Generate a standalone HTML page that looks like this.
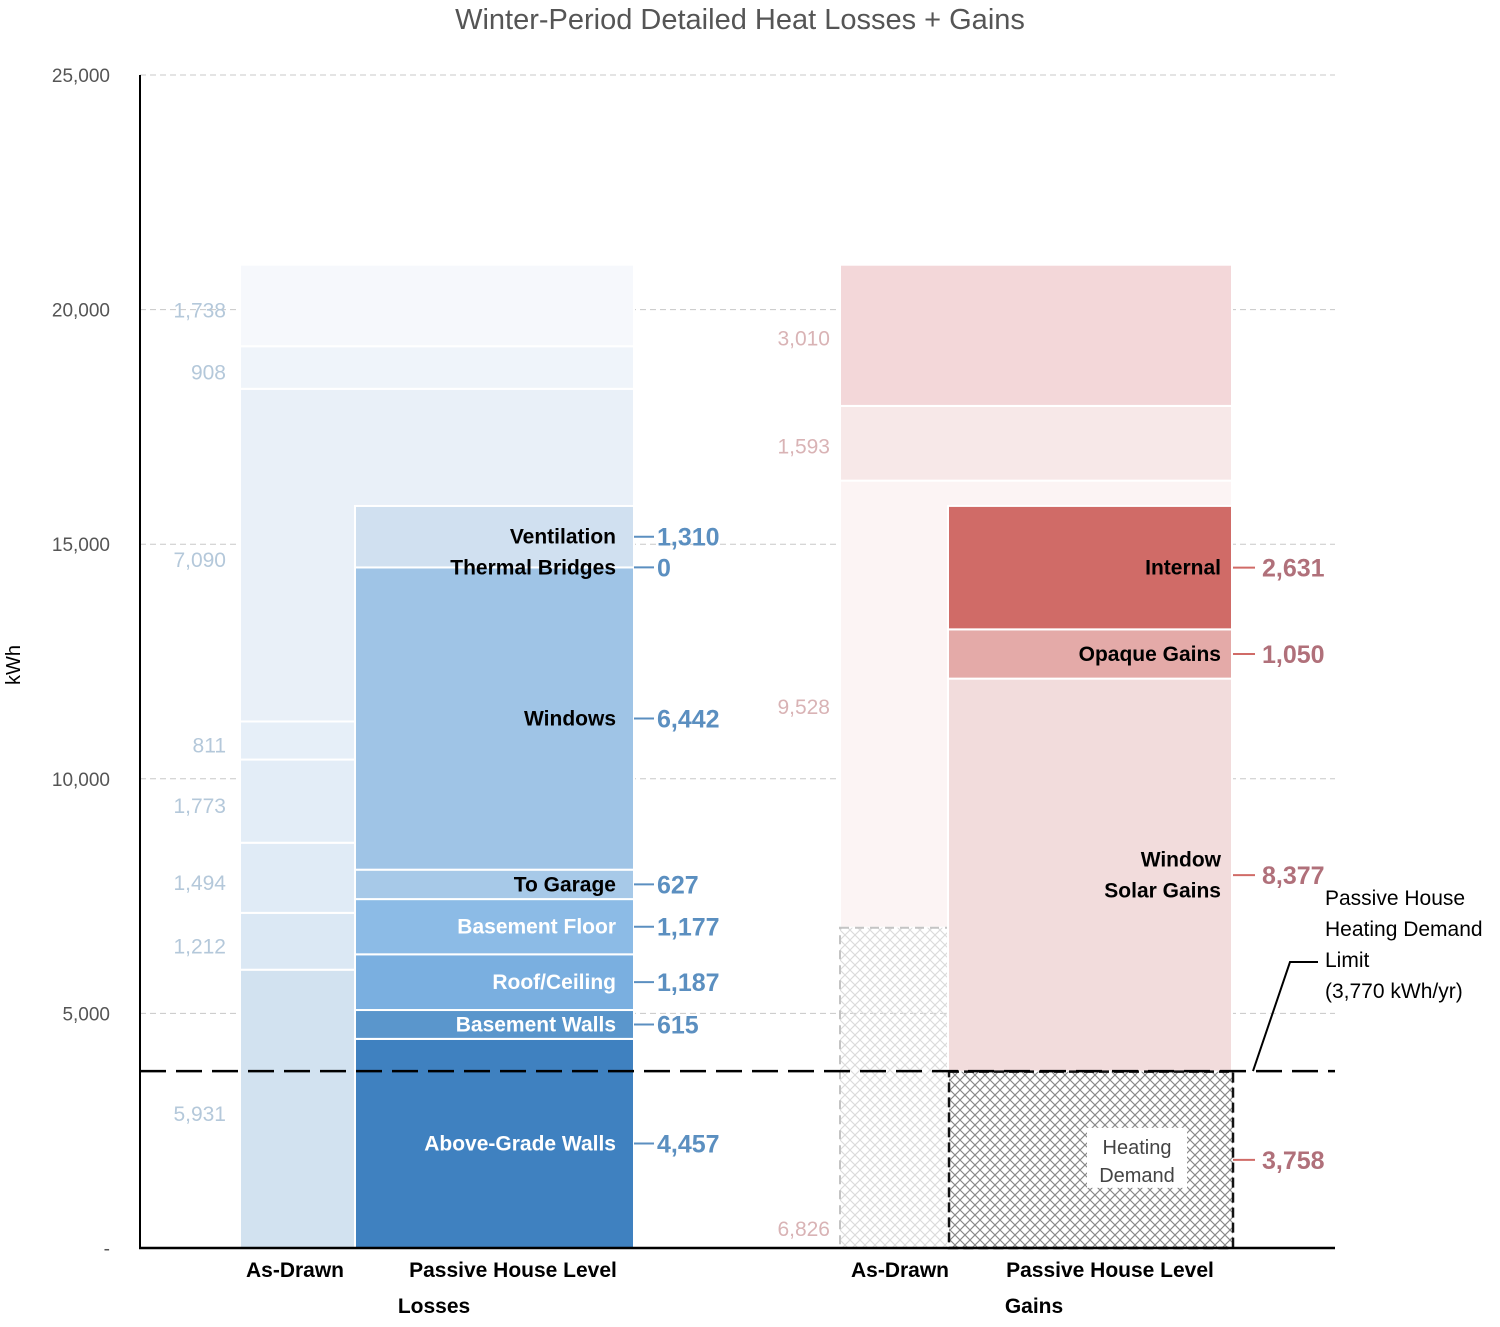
<!DOCTYPE html>
<html><head><meta charset="utf-8"><style>
html,body{margin:0;padding:0;background:#fff;}
svg text{font-family:"Liberation Sans",sans-serif;}
</style></head><body>
<svg id="chart" width="1500" height="1322" viewBox="0 0 1500 1322" xmlns="http://www.w3.org/2000/svg">
<defs>
<pattern id="hatch" width="10" height="10" patternUnits="userSpaceOnUse">
<path d="M0,0 L10,10 M10,0 L0,10" stroke="#8a8a8a" stroke-width="1"/></pattern>
<pattern id="hatchL" width="10" height="10" patternUnits="userSpaceOnUse">
<path d="M0,0 L10,10 M10,0 L0,10" stroke="#dcdcdc" stroke-width="1"/></pattern>
</defs>
<text x="740" y="29" text-anchor="middle" font-size="29" fill="#555">Winter-Period Detailed Heat Losses + Gains</text>
<text transform="translate(20,665) rotate(-90)" text-anchor="middle" font-size="20" fill="#000">kWh</text>
<g id="grid"></g>
<g id="bars"></g>
<g id="labels"></g>
</svg>
<script>
const yTicks = [0, 5000, 10000, 15000, 20000, 25000];
const yTickLabels = ['-', '5,000', '10,000', '15,000', '20,000', '25,000'];
const lossAsDrawn = [5931, 1212, 1494, 1773, 811, 7090, 908, 1738];
const lossAsDrawnColors = ['#d2e2f0','#dbe8f4','#e0ebf6','#e3edf7','#e6eff8','#e9f0f8','#eff4fa','#f6f8fc'];
const lossPH = [4457, 615, 1187, 1177, 627, 6442, 0, 1310];
const lossPHNames = ['Above-Grade Walls','Basement Walls','Roof/Ceiling','Basement Floor','To Garage','Windows','Thermal Bridges','Ventilation'];
const lossPHColors = ['#3f81c0','#5a96cc','#7aafe0','#8cbbe6','#a7c9e8','#9fc4e6','#9fc4e6','#d0e0f0'];
const lossPHNameColors = ['#fff','#fff','#fff','#fff','#000','#000','#000','#000'];
const gainAsDrawn = [6826, 9528, 1593, 3010];
const gainAsDrawnColors = ['hatchL','#fcf4f4','#f7e8e8','#f3d7d9'];
const gainPH = [3758, 8377, 1050, 2631];
const gainPHNames = ['', 'Window|Solar Gains', 'Opaque Gains', 'Internal'];
const gainPHColors = ['hatch','#f2dcdc','#e4aaa8','#d06b67'];
const limitValue = 3770;

const X0=140, X1=1335;
const y = v => 1248 - v * (1173/25000);
const NS='http://www.w3.org/2000/svg';
function mk(parent, tag, attrs){const e=document.createElementNS(NS,tag);for(const k in attrs)e.setAttribute(k,attrs[k]);parent.appendChild(e);return e;}
const grid=document.getElementById('grid'), bars=document.getElementById('bars'), labels=document.getElementById('labels');

yTicks.forEach((t,i)=>{
  if(t>0){const l=mk(grid,'line',{x1:X0,x2:X1,y1:y(t),y2:y(t),stroke:'#c8c8c8','stroke-dasharray':'6,4'});
  
  }
  const tx=mk(grid,'text',{x:110,y:y(t)+7,'text-anchor':'end','font-size':19,fill:'#555'});
  tx.textContent=yTickLabels[i];
  
  
});

function stack(vals, x, w, colors, group){
  let c=0; const out=[];
  vals.forEach((v,i)=>{
    const top=y(c+v), bot=y(c);
    const col=colors[i];
    const r=mk(bars,'rect',{x:x,y:top,width:w,height:bot-top,fill:col.startsWith('#')?col:'url(#'+col+')',stroke:'#fff','stroke-width':2});
    
    
    out.push({top,bot,mid:(top+bot)/2});
    c+=v;
  });
  return out;
}
function txt(x,yy,s,opt){const t=mk(labels,'text',Object.assign({x:x,y:yy,'font-size':22},opt));t.textContent=s;return t;}
const fmt=v=>v.toLocaleString('en-US');

// losses
const lad=stack(lossAsDrawn,240,394,lossAsDrawnColors,'loss-as-drawn');
const lph=stack(lossPH,355,279,lossPHColors,'loss-passive-house');
lad.forEach((s,i)=>{const t=txt(226,s.mid+12,fmt(lossAsDrawn[i]),{'text-anchor':'end','font-size':21,fill:'#b4c8da'});
  
  });
lph.forEach((s,i)=>{
  const ym=lossPH[i]===0?s.mid:s.mid;
  const n=txt(616,ym+7,lossPHNames[i],{'text-anchor':'end','font-weight':'bold','font-size':21,fill:lossPHNameColors[i]});
  
  
  mk(labels,'line',{x1:634,x2:654,y1:ym,y2:ym,stroke:'#5b8fc0','stroke-width':2});
  const v=txt(657,ym+9,fmt(lossPH[i]),{'font-size':25,'font-weight':'bold',fill:'#5b8fc0'});
  
  
});

// gains
const gad=stack(gainAsDrawn,840,392,gainAsDrawnColors,'gain-as-drawn');
mk(bars,'rect',{x:840,y:gad[0].top,width:108,height:gad[0].bot-gad[0].top,fill:'url(#hatchL)',stroke:'#c4c4c4','stroke-width':2,'stroke-dasharray':'9,6'});
const gph=stack(gainPH,948,284,gainPHColors,'gain-passive-house');
gph[0].rect=mk(bars,'rect',{x:949,y:gph[0].top,width:284,height:gph[0].bot-gph[0].top,fill:'url(#hatch)',stroke:'#111','stroke-width':2.5,'stroke-dasharray':'10,5'});
gad.forEach((s,i)=>{const yy=i===0?1236:s.mid+10;const t=txt(830,yy,fmt(gainAsDrawn[i]),{'text-anchor':'end','font-size':21,fill:'#d9b3b5'});
  
  });
gph.forEach((s,i)=>{
  const parts=gainPHNames[i].split('|').filter(p=>p);
  parts.forEach((p,j)=>{const n=txt(1221,s.mid+7+(j-(parts.length-1)/2)*31,p,{'text-anchor':'end','font-weight':'bold','font-size':21,fill:'#000'});
    
    });
  mk(labels,'line',{x1:1233,x2:1255,y1:s.mid,y2:s.mid,stroke:'#d06b67','stroke-width':2});
  const v=txt(1262,s.mid+9,fmt(gainPH[i]),{'font-size':25,'font-weight':'bold',fill:'#b0707a'});
  
  
});
// heating demand box
const hb=mk(labels,'rect',{x:1087,y:y(gainPH[0]/2)-32,width:100,height:60,fill:'#fff'});


let h1=txt(1137,y(gainPH[0]/2)-6,'Heating',{'text-anchor':'middle','font-size':20,fill:'#444'});


let h2=txt(1137,y(gainPH[0]/2)+22,'Demand',{'text-anchor':'middle','font-size':20,fill:'#444'});

// limit line
const ll=mk(labels,'line',{x1:X0,x2:X1,y1:y(limitValue),y2:y(limitValue),stroke:'#000','stroke-width':2.5,'stroke-dasharray':'26,10'});


mk(labels,'polyline',{points:`1253,${y(limitValue)} 1290,962 1318,962`,fill:'none',stroke:'#000','stroke-width':2});
['Passive House','Heating Demand','Limit','(3,770 kWh/yr)'].forEach((s,i)=>{const t=txt(1325,905+i*31,s,{'font-size':21,fill:'#000'});
  
  });

// axes
mk(labels,'line',{x1:X0,x2:X0,y1:75,y2:1249,stroke:'#000','stroke-width':2});
mk(labels,'line',{x1:X0-1,x2:X1,y1:1248,y2:1248,stroke:'#000','stroke-width':2.5});
[['As-Drawn',295,1277],['Passive House Level',513,1277],['Losses',434,1313],['As-Drawn',900,1277],['Passive House Level',1110,1277],['Gains',1034,1313]].forEach(a=>{
  const t=txt(a[1],a[2],a[0],{'text-anchor':'middle','font-weight':'bold','font-size':21,fill:'#000'});
  
  
});
</script>
</body></html>
